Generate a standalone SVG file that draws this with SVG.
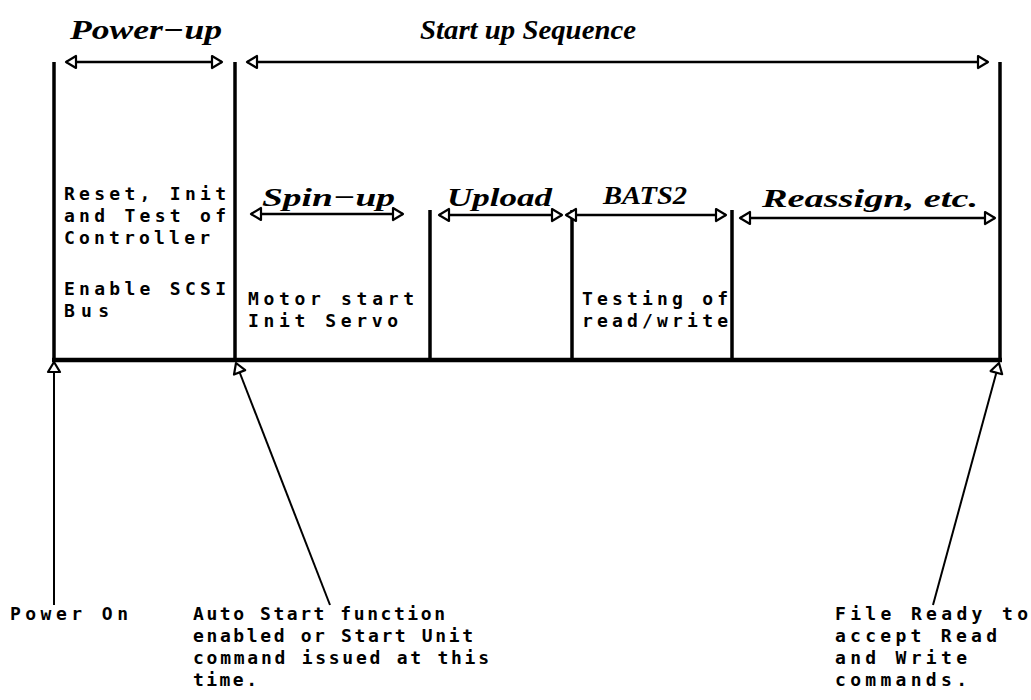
<svg xmlns="http://www.w3.org/2000/svg" width="1031" height="700" viewBox="0 0 1031 700">
<style>
.t{font-family:"Liberation Serif",serif;font-weight:bold;font-style:italic;font-size:28px;fill:#000}
.s{font-family:"Liberation Serif",serif;font-weight:bold;font-style:italic;font-size:26px;fill:#000}
.m{font-family:"DejaVu Sans Mono","Liberation Mono",monospace;font-weight:bold;font-size:18px;fill:#000}
.v{stroke:#000;stroke-width:3.5;fill:none}
.a{stroke:#000;stroke-width:2.5;fill:none;marker-start:url(#h);marker-end:url(#h)}
.p{stroke:#000;stroke-width:2;fill:none;marker-end:url(#h)}
</style>
<defs>
<marker id="h" markerUnits="userSpaceOnUse" markerWidth="16" markerHeight="16" viewBox="-2 -8 14 16" refX="10" refY="0" orient="auto-start-reverse">
<path d="M0,-6 L10,0 L0,6 Z" fill="#fff" stroke="#000" stroke-width="2.2" stroke-linejoin="round"/>
</marker>
</defs>
<rect width="1031" height="700" fill="#fff"/>
<g id="frame">
<line class="v" x1="54" y1="62" x2="54" y2="360"/>
<line class="v" x1="235" y1="62" x2="235" y2="360"/>
<line class="v" x1="430" y1="210" x2="430" y2="360"/>
<line class="v" x1="572" y1="210" x2="572" y2="360"/>
<line class="v" x1="732" y1="210" x2="732" y2="360"/>
<line class="v" x1="1000" y1="62" x2="1000" y2="360"/>
<line stroke="#000" stroke-width="4.5" x1="52" y1="360" x2="1002" y2="360"/>
</g>
<g id="connectors">
<line class="a" x1="66" y1="62" x2="222" y2="62"/>
<line class="a" x1="247" y1="62" x2="988" y2="62"/>
<line class="a" x1="251" y1="214" x2="403" y2="214"/>
<line class="a" x1="439" y1="215" x2="562" y2="215"/>
<line class="a" x1="566" y1="215" x2="726" y2="215"/>
<line class="a" x1="740" y1="218" x2="995" y2="218"/>
<line class="p" x1="54" y1="605" x2="54" y2="362"/>
<line class="p" x1="330" y1="605" x2="236" y2="363"/>
<line class="p" x1="933" y1="605" x2="999" y2="363"/>
</g>
<g id="power-up">
<text class="t" x="70" y="39" textLength="152" lengthAdjust="spacingAndGlyphs">Power−up</text>
<text class="m" x="64" y="200" textLength="162" lengthAdjust="spacing">Reset, Init</text>
<text class="m" x="64" y="222" textLength="162" lengthAdjust="spacing">and Test of</text>
<text class="m" x="64" y="244" textLength="146" lengthAdjust="spacing">Controller</text>
<text class="m" x="64" y="295" textLength="162" lengthAdjust="spacing">Enable SCSI</text>
<text class="m" x="64" y="317" textLength="45" lengthAdjust="spacing">Bus</text>
</g>
<g id="startup">
<text class="t" x="420" y="39" textLength="216" lengthAdjust="spacingAndGlyphs">Start up Sequence</text>
</g>
<g id="spin-up">
<text class="s" x="262" y="206" textLength="133" lengthAdjust="spacingAndGlyphs">Spin−up</text>
<text class="m" x="248" y="305" textLength="166" lengthAdjust="spacing">Motor start</text>
<text class="m" x="248" y="327" textLength="150" lengthAdjust="spacing">Init Servo</text>
</g>
<g id="upload">
<text class="s" x="447" y="206" textLength="105" lengthAdjust="spacingAndGlyphs">Upload</text>
</g>
<g id="bats2">
<text class="s" x="603" y="204" textLength="84" lengthAdjust="spacingAndGlyphs">BATS2</text>
<text class="m" x="582" y="305" textLength="146" lengthAdjust="spacing">Testing of</text>
<text class="m" x="582" y="327" textLength="146" lengthAdjust="spacing">read/write</text>
</g>
<g id="reassign">
<text class="s" x="762" y="207" textLength="216" lengthAdjust="spacingAndGlyphs">Reassign, etc.</text>
</g>
<g id="power-on">
<text class="m" x="10" y="620" textLength="118" lengthAdjust="spacing">Power On</text>
</g>
<g id="auto-start">
<text class="m" x="193" y="620" textLength="252" lengthAdjust="spacing">Auto Start function</text>
<text class="m" x="193" y="642" textLength="280" lengthAdjust="spacing">enabled or Start Unit</text>
<text class="m" x="193" y="664" textLength="296" lengthAdjust="spacing">command issued at this</text>
<text class="m" x="193" y="686" textLength="64" lengthAdjust="spacing">time.</text>
</g>
<g id="file-ready">
<text class="m" x="835" y="620" textLength="193" lengthAdjust="spacing">File Ready to</text>
<text class="m" x="835" y="642" textLength="162" lengthAdjust="spacing">accept Read</text>
<text class="m" x="835" y="664" textLength="132" lengthAdjust="spacing">and Write</text>
<text class="m" x="835" y="686" textLength="132" lengthAdjust="spacing">commands.</text>
</g>
</svg>
